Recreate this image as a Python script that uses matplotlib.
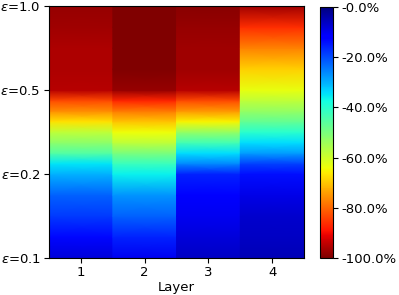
import numpy as np
import matplotlib
matplotlib.use("Agg")
import matplotlib.pyplot as plt

# epsilon ticks are evenly spaced on the vertical axis
eps_labels = [r"$\epsilon$=0.1", r"$\epsilon$=0.2", r"$\epsilon$=0.5", r"$\epsilon$=1.0"]
layers = [1, 2, 3, 4]

# sample positions along the epsilon axis (0 = eps 0.1, 3 = eps 1.0)
pos = [0, 0.25, 0.5, 0.75, 1.0, 1.125, 1.25, 1.375, 1.5, 1.625, 1.75, 1.875,
       2.0, 2.25, 2.5, 2.75, 3.0]

# relative change per layer
layer1 = [-0.08, -0.13, -0.18, -0.22, -0.30, -0.35, -0.45, -0.52, -0.58, -0.67,
          -0.76, -0.83, -0.95, -0.96, -0.96, -0.97, -0.98]
layer2 = [-0.10, -0.16, -0.22, -0.27, -0.36, -0.42, -0.50, -0.58, -0.64, -0.70,
          -0.78, -0.87, -0.98, -1.00, -1.00, -1.00, -1.00]
layer3 = [-0.06, -0.08, -0.10, -0.11, -0.16, -0.26, -0.34, -0.43, -0.53, -0.65,
          -0.75, -0.83, -0.95, -0.97, -0.97, -0.98, -0.99]
layer4 = [-0.05, -0.06, -0.07, -0.09, -0.14, -0.19, -0.28, -0.34, -0.40, -0.47,
          -0.53, -0.58, -0.63, -0.69, -0.77, -0.86, -0.97]

cbar_ticks = [-1.0, -0.8, -0.6, -0.4, -0.2, 0.0]
cbar_labels = ["-100.0%", "-80.0%", "-60.0%", "-40.0%", "-20.0%", "-0.0%"]

plt.rcParams["font.size"] = 9.5
plt.rcParams["xtick.major.pad"] = 2.5
plt.rcParams["ytick.major.pad"] = 2.5

fig = plt.figure(figsize=(3.99, 2.95), dpi=100)
ax = fig.add_axes([0.123, 0.125, 0.639, 0.854])
cax = fig.add_axes([0.802, 0.125, 0.033, 0.851])

y = np.array(pos)
mesh = None
for lay, vals in zip(layers, [layer1, layer2, layer3, layer4]):
    X, Y = np.meshgrid([lay - 0.5, lay + 0.5], y)
    C = np.column_stack([vals, vals])
    mesh = ax.pcolormesh(X, Y, C, shading="gouraud", cmap="jet_r", vmin=-1, vmax=0)

ax.set_xlim(0.5, 4.5)
ax.set_ylim(0, 3)
ax.set_xticks(layers)
ax.set_yticks(range(len(eps_labels)))
ax.set_yticklabels(eps_labels)
ax.set_xlabel("Layer", labelpad=1)

cb = fig.colorbar(mesh, cax=cax)
cb.set_ticks(cbar_ticks)
cb.set_ticklabels(cbar_labels)

fig.savefig("out.png", dpi=100)
